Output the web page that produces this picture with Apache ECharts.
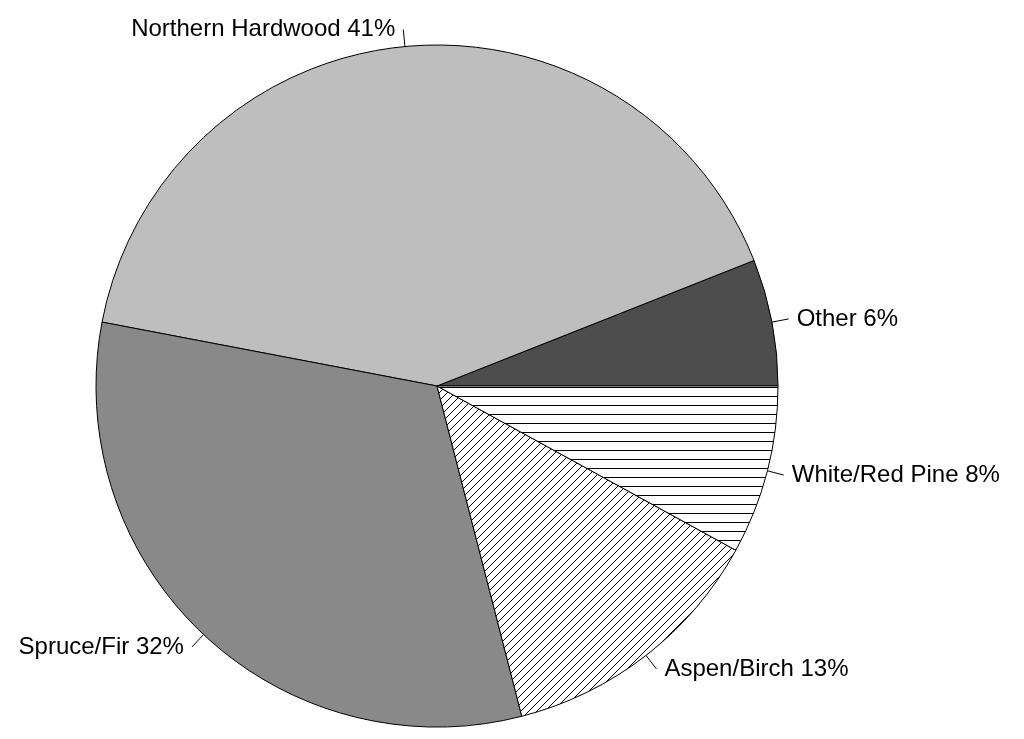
<!DOCTYPE html>
<html><head><meta charset="utf-8">
<script src="https://cdn.jsdelivr.net/npm/echarts@6/dist/echarts.min.js"></script>
<style>html,body{margin:0;padding:0;background:#fff}#c{width:1024px;height:739px}</style>
</head><body><div id="c"></div>
<script>
const categories = ["Other", "Northern Hardwood", "Spruce/Fir", "Aspen/Birch", "White/Red Pine"];
const values = [6, 41, 32, 13, 8];

function pattern(kind){
  const c = document.createElement('canvas');
  const s = kind === 'h' ? 9 : 8; c.width = s; c.height = s;
  const g = c.getContext('2d');
  g.fillStyle = '#fff'; g.fillRect(0,0,s,s);
  g.strokeStyle = '#000'; g.lineWidth = 1;
  g.beginPath();
  if (kind === 'h') { g.moveTo(0,0.5); g.lineTo(s,0.5); }
  else { g.moveTo(-1,s+1); g.lineTo(s+1,-1); g.moveTo(-1,1); g.lineTo(1,-1); g.moveTo(s-1,s+1); g.lineTo(s+1,s-1); }
  g.stroke();
  return {image: c, repeat: 'repeat'};
}
const fills = ['#4d4d4d', '#bebebe', '#898989', pattern('d'), pattern('h')];

const chart = echarts.init(document.getElementById('c'));
chart.setOption({
  animation: false,
  series: [{
    type: 'pie',
    center: [437, 386],
    radius: [0, 341],
    startAngle: 0,
    clockwise: false,
    data: categories.map((n, i) => ({name: n, value: values[i], itemStyle: {color: fills[i]}})),
    itemStyle: {borderColor: '#000', borderWidth: 1},
    label: {show: true, formatter: p => p.name + ' ' + p.value + '%', color: '#000',
      fontFamily: 'Liberation Sans, Arial', fontSize: 24, distanceToLabelLine: 8},
    labelLine: {show: true, length: 17, length2: 0, lineStyle: {color: '#000', width: 1}},
    emphasis: {disabled: true}
  }]
});
</script></body></html>
